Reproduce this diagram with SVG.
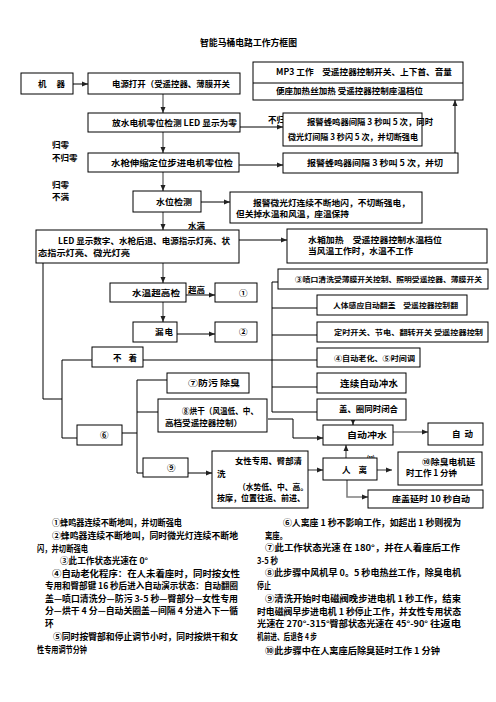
<svg xmlns="http://www.w3.org/2000/svg" width="496" height="702" viewBox="0 0 496 702">
<defs>
<style>
.b{fill:#fff;stroke:#000;stroke-width:1}
.t{font-family:"Noto Sans CJK SC","Noto Sans",sans-serif;font-weight:bold;font-size:8.5px;fill:#000}
.s{font-size:7px}
.n{font-family:"Noto Sans CJK SC","Noto Sans",sans-serif;font-weight:bold;font-size:8.6px;fill:#000}
.c{fill:none;stroke:#000;stroke-width:1}
.g{fill:none;stroke:#808080;stroke-width:1.6}
</style>
<marker id="a" markerWidth="6" markerHeight="6" refX="6" refY="3" orient="auto" markerUnits="userSpaceOnUse"><path d="M0,0.5 L6,3 L0,5.5 z" fill="#222"/></marker>
</defs>
<rect width="496" height="702" fill="#fff"/>
<text class="t" x="200" y="46" textLength="97" lengthAdjust="spacingAndGlyphs" style="font-size:9px">智能马桶电路工作方框图</text>

<g id="connectors">
<path class="c" d="M73,84 H88" marker-end="url(#a)"/>
<path class="g" d="M163,94 V113" marker-end="url(#a)"/>
<path class="c" d="M240,127 H283" marker-end="url(#a)"/>
<path class="g" d="M163,132 V153" marker-end="url(#a)"/>
<path class="c" d="M239,165 H283" marker-end="url(#a)"/>
<path class="c" d="M455,153 V100" marker-end="url(#a)"/>
<path class="g" d="M163,172 V191" marker-end="url(#a)"/>
<path class="c" d="M201,202 H230" marker-end="url(#a)"/>
<path class="g" d="M163,212 V230" marker-end="url(#a)"/>
<path class="c" d="M239,240 H287" marker-end="url(#a)"/>
<path class="g" d="M163,263 V283" marker-end="url(#a)"/>
<path class="c" d="M186,295 H215" marker-end="url(#a)"/>
<path class="g" d="M163,302 V322" marker-end="url(#a)"/>
<path class="c" d="M177,334 H215" marker-end="url(#a)"/>
<path class="c" d="M43,263 V399 H62"/>
<path class="c" d="M62,360 V438 H77 M62,360 H92"/>
<path class="c" d="M143,360 H317"/>
<path class="c" d="M272,282 V412 M272,282 H278 M272,308 H317 M272,335 H317 M272,387 H317 M272,412 H317"/>
<path class="c" d="M137,380 V473 H143 M137,380 H167 M137,412 H158 M122,433 H137"/>
<path class="c" d="M188,473 H212" marker-end="url(#a)"/>
<path class="c" d="M268,419 H293 V438 H323" marker-end="url(#a)"/>
<path class="c" d="M353,420 V425" marker-end="url(#a)"/>
<path class="g" d="M393,432 H428" marker-end="url(#a)"/>
<path class="g" d="M308,470 H323" marker-end="url(#a)"/>
<path class="g" d="M346,458 V445" marker-end="url(#a)"/>
<path class="g" d="M377,470 H392" marker-end="url(#a)"/>
<path class="g" d="M347,480 V497 H368" marker-end="url(#a)"/>
</g>

<g id="labels">
<text class="t" x="52" y="148">归零</text>
<text class="t" x="52" y="161">不归零</text>
<text class="t" x="52" y="188">归零</text>
<text class="t" x="52" y="200">不满</text>
<text class="t" x="268" y="123">不归</text>
<text class="t" x="188" y="229">水满</text>
<text class="t" x="188" y="293">超高</text>
<text class="t" x="367" y="462" style="font-size:7.5px">⑾</text>
</g>

<g id="n-jiqi"><rect class="b" x="21" y="73" width="52" height="21"/><text class="t" x="38" y="87" textLength="27" lengthAdjust="spacing">机 器</text></g>
<g id="n-power"><rect class="b" x="88" y="73" width="152" height="21"/><text class="t" x="112" y="87" textLength="118" lengthAdjust="spacingAndGlyphs">电源打开（受遥控器、薄膜开关</text></g>
<g id="n-mp3"><rect class="b" x="253" y="62" width="210" height="38"/><line class="c" x1="253" y1="83" x2="463" y2="83"/>
<text class="t" x="276" y="75" textLength="176" lengthAdjust="spacingAndGlyphs">MP3 工作　受遥控器控制开关、上下首、音量</text>
<text class="t" x="276" y="94" textLength="147" lengthAdjust="spacingAndGlyphs">便座加热丝加热 受遥控器控制座温档位</text></g>
<g id="n-drain"><rect class="b" x="88" y="113" width="152" height="19"/><text class="t" x="112" y="126" textLength="125" lengthAdjust="spacingAndGlyphs">放水电机零位检测 LED 显示为零</text></g>
<g id="n-alarm1"><rect class="b" x="283" y="113" width="139" height="33"/>
<text class="t" x="307" y="125" textLength="126" lengthAdjust="spacingAndGlyphs">报警蜂鸣器间隔 3 秒叫 5 次，同时</text>
<text class="t" x="288" y="140" textLength="130" lengthAdjust="spacingAndGlyphs">微光灯间隔 3 秒闪 5 次，并切断强电</text></g>
<g id="n-gun"><rect class="b" x="88" y="153" width="151" height="19"/><text class="t" x="111" y="166" textLength="122" lengthAdjust="spacingAndGlyphs">水枪伸缩定位步进电机零位检</text></g>
<g id="n-alarm2"><rect class="b" x="283" y="153" width="175" height="20"/><text class="t" x="307" y="166" textLength="136" lengthAdjust="spacingAndGlyphs">报警蜂鸣器间隔 3 秒叫 5 次，并切</text></g>
<g id="n-level"><rect class="b" x="133" y="191" width="68" height="21"/><text class="t" x="156" y="205" textLength="36" lengthAdjust="spacingAndGlyphs">水位检测</text></g>
<g id="n-alarm3"><rect class="b" x="230" y="192" width="192" height="31"/>
<text class="t" x="253" y="206" textLength="157" lengthAdjust="spacingAndGlyphs">报警微光灯连续不断地闪，不切断强电，</text>
<text class="t" x="236" y="217" textLength="113" lengthAdjust="spacingAndGlyphs">但关掉水温和风温，座温保持</text></g>
<g id="n-led"><rect class="b" x="36" y="230" width="203" height="33"/>
<text class="t" x="58" y="244" textLength="172" lengthAdjust="spacingAndGlyphs">LED 显示数字、水枪后退、电源指示灯亮、状</text>
<text class="t" x="38" y="256" textLength="92" lengthAdjust="spacingAndGlyphs">态指示灯亮、微光灯亮</text></g>
<g id="n-tank"><rect class="b" x="287" y="229" width="200" height="34"/>
<text class="t" x="308" y="243" textLength="134" lengthAdjust="spacingAndGlyphs">水箱加热　受遥控器控制水温档位</text>
<text class="t" x="308" y="254" textLength="105" lengthAdjust="spacingAndGlyphs">当风温工作时，水温不工作</text></g>
<g id="n-temp"><rect class="b" x="110" y="283" width="76" height="19"/><text class="t" x="132" y="296" textLength="48" lengthAdjust="spacingAndGlyphs">水温超高检</text></g>
<g id="n-1"><rect class="b" x="215" y="283" width="42" height="19"/><text class="t" x="239" y="296">①</text></g>
<g id="n-leak"><rect class="b" x="133" y="322" width="44" height="20"/><text class="t" x="155" y="335" textLength="18" lengthAdjust="spacing">漏 电</text></g>
<g id="n-2"><rect class="b" x="215" y="322" width="42" height="20"/><text class="t" x="239" y="335">②</text></g>
<g id="n-notsit"><rect class="b" x="92" y="347" width="51" height="20"/><text class="t" x="113" y="361" textLength="24" lengthAdjust="spacing">不 着</text></g>
<g id="n-nozzle"><rect class="b" x="278" y="269" width="210" height="20"/><text class="t s" x="295" y="282" textLength="187" lengthAdjust="spacingAndGlyphs">③喷口清洗受薄膜开关控制、照明受遥控器、薄膜开关</text></g>
<g id="n-sensor"><rect class="b" x="317" y="295" width="150" height="20"/><text class="t s" x="333" y="308" textLength="125" lengthAdjust="spacingAndGlyphs">人体感应自动翻盖　受遥控器控制翻</text></g>
<g id="n-timer"><rect class="b" x="317" y="322" width="171" height="20"/><text class="t s" x="334" y="335" textLength="149" lengthAdjust="spacingAndGlyphs">定时开关、节电、翻转开关 受遥控器控制</text></g>
<g id="n-aging"><rect class="b" x="317" y="348" width="103" height="19"/><text class="t s" x="334" y="361" textLength="81" lengthAdjust="spacingAndGlyphs">④自动老化、⑤时间调</text></g>
<g id="n-cont"><rect class="b" x="317" y="373" width="89" height="20"/><text class="t" x="340" y="387" style="font-size:9.5px" textLength="58" lengthAdjust="spacing">连 续 自 动 冲 水</text></g>
<g id="n-7"><rect class="b" x="167" y="373" width="82" height="20"/><text class="t" x="188" y="386" textLength="52" lengthAdjust="spacingAndGlyphs">⑦防污  除臭</text></g>
<g id="n-lid"><rect class="b" x="317" y="399" width="89" height="21"/><text class="t" x="339" y="412" textLength="59" lengthAdjust="spacingAndGlyphs">盖、圈同时闭合</text></g>
<g id="n-8"><rect class="b" x="158" y="399" width="109" height="33"/>
<text class="t" x="182" y="414" textLength="76" lengthAdjust="spacingAndGlyphs">⑧烘干（风温低、中、</text>
<text class="t" x="165" y="426" textLength="77" lengthAdjust="spacingAndGlyphs">高档受遥控器控制）</text></g>
<g id="n-6"><rect class="b" x="77" y="425" width="45" height="20"/><text class="t" x="100" y="438">⑥</text></g>
<g id="n-flush"><rect class="b" x="323" y="425" width="70" height="20"/><text class="t" x="347" y="438" textLength="40" lengthAdjust="spacingAndGlyphs">自动冲水</text></g>
<g id="n-auto"><rect class="b" x="428" y="423" width="55" height="22"/><text class="t" x="452" y="437" textLength="21" lengthAdjust="spacing">自 动</text></g>
<g id="n-9"><rect class="b" x="143" y="458" width="45" height="19"/><text class="t" x="167" y="471">⑨</text></g>
<g id="n-female"><rect class="b" x="212" y="451" width="96" height="57"/>
<text class="t" x="235" y="464" textLength="67" lengthAdjust="spacingAndGlyphs">女性专用、臀部清</text>
<text class="t" x="217" y="477">洗</text>
<text class="t" x="238" y="490" textLength="70" lengthAdjust="spacingAndGlyphs">（水势低、中、高。</text>
<text class="t" x="217" y="501" textLength="88" lengthAdjust="spacingAndGlyphs">按摩，位置往返、前进、</text></g>
<g id="n-leave"><rect class="b" x="323" y="458" width="54" height="22"/><text class="t" x="342" y="473" textLength="25" lengthAdjust="spacing">人 离</text></g>
<g id="n-10"><rect class="b" x="398" y="452" width="84" height="33"/>
<text class="t" x="422" y="465" textLength="53" lengthAdjust="spacingAndGlyphs">⑩除臭电机延</text>
<text class="t" x="406" y="476" textLength="51" lengthAdjust="spacingAndGlyphs">时工作 1 分钟</text></g>
<g id="n-seat"><rect class="b" x="368" y="490" width="115" height="18"/><text class="t" x="392" y="502" textLength="78" lengthAdjust="spacingAndGlyphs">座盖延时 10 秒自动</text></g>

<g id="notes">
<text class="n" x="52" y="526" textLength="130" lengthAdjust="spacingAndGlyphs">①蜂鸣器连续不断地叫，并切断强电</text>
<text class="n" x="52" y="539" textLength="186" lengthAdjust="spacingAndGlyphs">②蜂鸣器连续不断地叫，同时微光灯连续不断地</text>
<text class="n" x="37" y="551.5" textLength="51" lengthAdjust="spacingAndGlyphs">闪，并切断强电</text>
<text class="n" x="60" y="564" textLength="88" lengthAdjust="spacingAndGlyphs">③此工作状态光速在 0°</text>
<text class="n" x="52" y="576.5" textLength="188" lengthAdjust="spacingAndGlyphs">④自动老化程序：在人未着座时，同时按女性</text>
<text class="n" x="45" y="589" textLength="193" lengthAdjust="spacingAndGlyphs">专用和臀部键 16 秒后进入自动演示状态：自动翻圈</text>
<text class="n" x="45" y="601.5" textLength="193" lengthAdjust="spacingAndGlyphs">盖—喷口清洗分—防污 3-5 秒—臀部分—女性专用</text>
<text class="n" x="45" y="614" textLength="193" lengthAdjust="spacingAndGlyphs">分—烘干 4 分—自动关圈盖—间隔 4 分进入下一循</text>
<text class="n" x="45" y="626.5">环</text>
<text class="n" x="53" y="640" textLength="185" lengthAdjust="spacingAndGlyphs">⑤同时按臀部和停止调节小时，同时按烘干和女</text>
<text class="n" x="37" y="652.5" textLength="50" lengthAdjust="spacingAndGlyphs">性专用调节分钟</text>
<text class="n" x="283" y="526" textLength="178" lengthAdjust="spacingAndGlyphs">⑥人离座 1 秒不影响工作，如超出 1 秒则视为</text>
<text class="n" x="265" y="538.5" textLength="22" lengthAdjust="spacingAndGlyphs">离座。</text>
<text class="n" x="265" y="551" textLength="195" lengthAdjust="spacingAndGlyphs">⑦此工作状态光速 在 180°，并在人着座后工作</text>
<text class="n" x="257" y="563.5" textLength="21" lengthAdjust="spacingAndGlyphs">3-5 秒</text>
<text class="n" x="265" y="576" textLength="196" lengthAdjust="spacingAndGlyphs">⑧此步骤中风机早 0。5 秒电热丝工作，除臭电机</text>
<text class="n" x="257" y="589" textLength="14" lengthAdjust="spacingAndGlyphs">停止</text>
<text class="n" x="265" y="602" textLength="196" lengthAdjust="spacingAndGlyphs">⑨清洗开始时电磁阀晚步进电机 1 秒工作，结束</text>
<text class="n" x="257" y="614.5" textLength="204" lengthAdjust="spacingAndGlyphs">时电磁阀早步进电机 1 秒停止工作，并女性专用状态</text>
<text class="n" x="257" y="627" textLength="171" lengthAdjust="spacingAndGlyphs">光速在 270°-315°臀部状态光速在 45°-90°</text>
<text class="n s" x="430" y="627" textLength="31" lengthAdjust="spacingAndGlyphs">往返电</text>
<text class="n s" x="257" y="640" textLength="60" lengthAdjust="spacingAndGlyphs">机前进、后退各 4 步</text>
<text class="n" x="265" y="654" textLength="175" lengthAdjust="spacingAndGlyphs">⑩此步骤中在人离座后除臭延时工作 1 分钟</text>
</g>
</svg>
